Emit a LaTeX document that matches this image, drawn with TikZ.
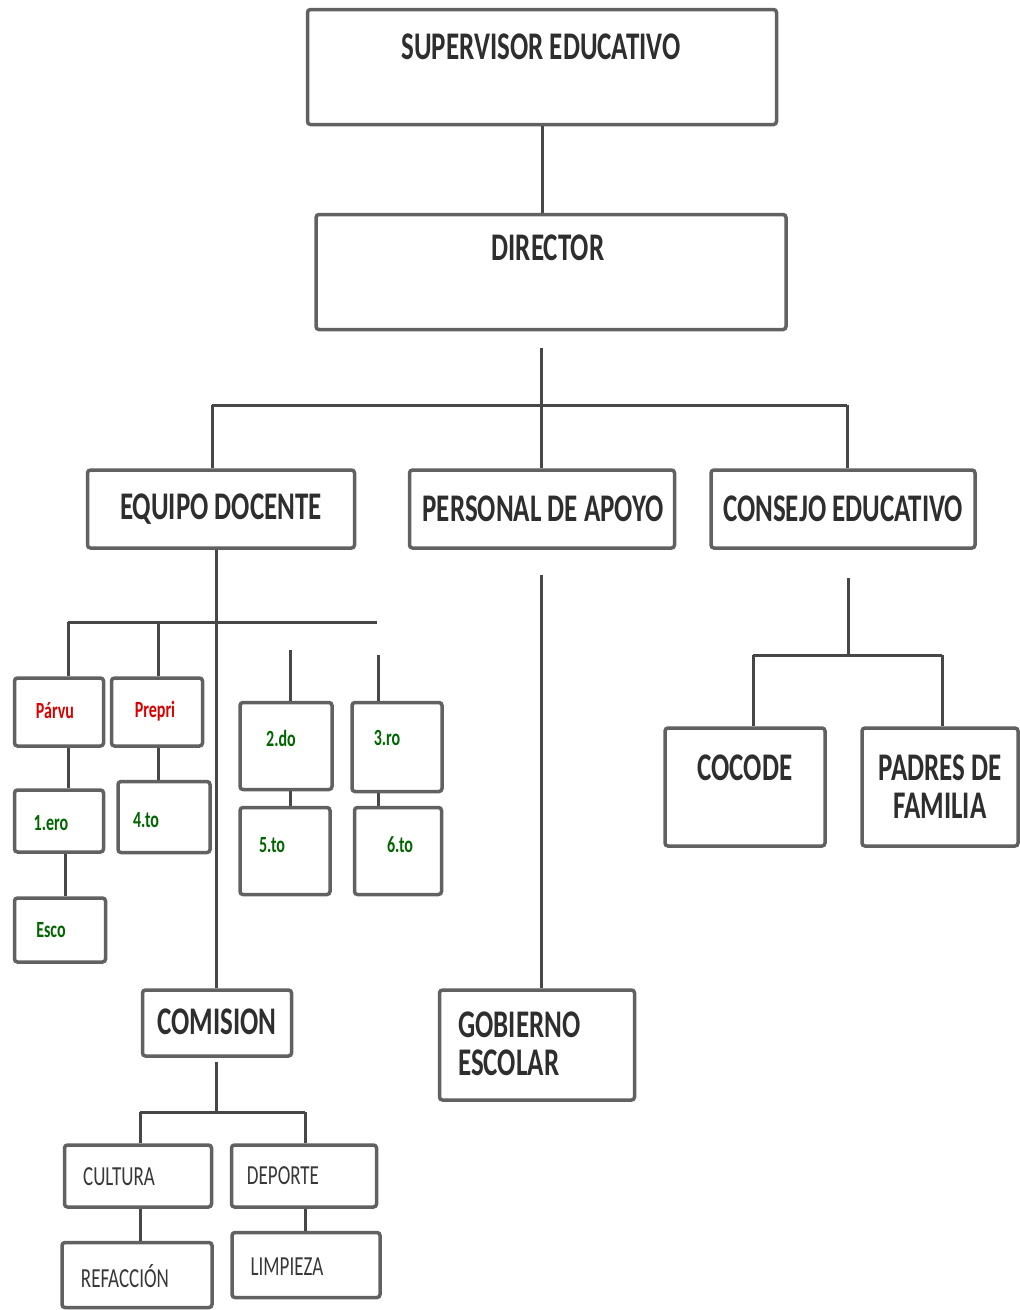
\documentclass[tikz,border=0pt]{standalone}
\usepackage{fontspec}
\setmainfont{Carlito}
\newcommand{\alto}[1]{\scalebox{1}[1.45]{#1}}
\begin{document}
\begin{tikzpicture}
[x=1pt,y=-1pt,
  boxdecorate/.style={shape=rectangle,draw=black!62,line width=3.5pt,rounded corners=3pt,inner sep=0pt},%
  linedecorate/.style={-,line width=3pt,draw=black!72},%
  bigtext/.style={text=black!82,font=\fontsize{27}{38}\selectfont\bfseries,inner sep=0pt},%
  smalltext/.style={text=black!78,font=\fontsize{19}{22}\selectfont,inner sep=0pt},%
  gradetext/.style={font=\fontsize{16}{20}\selectfont\bfseries,inner sep=0pt}]
\useasboundingbox (0,0) rectangle (1020,1310);
%% boxes
\foreach \nodename/\x/\y/\w/\h in {
  sup/542/67/469/115, dir/551/272/470/115,
  equipo/221/509/267/78, apoyo/542/509/265/78, consejo/843/509/264/78,
  parvu/59/712/89/68, prepri/157/712/91/68, g1/59/821/89/62, g4/164/817/92/71,
  esc/60/930/91/64, g2/286/746/92/87, g5/285/851/90/87, g3/397/747/90/89,
  g6/398/851/87/87, cocode/745/787/160/118, padres/940/787/156/118,
  comision/217/1023/149/66, gobierno/537/1045/195/110,
  cultura/138/1176/147/62, deporte/304/1176/145/62,
  refaccion/137/1275/150/65, limpieza/306/1265/148/65} {
  \node (\nodename) at (\x,\y) [boxdecorate,minimum width=\w pt,minimum height=\h pt] {};
}
%% texts
\foreach \nodename/\x/\y/\texto in {
  supt/541/47/SUPERVISOR EDUCATIVO, dirt/548/248/DIRECTOR,
  equipot/221/509/EQUIPO DOCENTE, apoyot/543/509/PERSONAL DE APOYO,
  consejot/843/509/CONSEJO EDUCATIVO, cocodet/745/768/COCODE,
  comisiont/217/1022/COMISION} {
  \node (\nodename) at (\x,\y) [bigtext] {\alto{\texto}};
}
\node (padrest) at (940,787) [bigtext,align=center] {\alto{PADRES DE}\\\alto{FAMILIA}};
\node (gobiernot) at (458,1044) [bigtext,align=left,anchor=west] {\alto{GOBIERNO}\\\alto{ESCOLAR}};
\foreach \nodename/\x/\y/\texto in {
  culturat/119/1177/CULTURA, deportet/283/1176/DEPORTE,
  refacciont/125/1276/REFACCIÓN, limpiezat/287/1267/LIMPIEZA} {
  \node (\nodename) at (\x,\y) [smalltext] {\alto{\texto}};
}
\foreach \nodename/\x/\y/\texto/\tinta in {
  parvut/55/711/Párvu/red!85!black, preprit/155/711/Prepri/red!85!black,
  g1t/51/823/1.ero/green!40!black, g4t/146/820/4.to/green!40!black,
  esct/51/930/Esco/green!40!black, g2t/281/738/2.do/green!40!black,
  g5t/272/845/5.to/green!40!black, g3t/387/738/3.ro/green!40!black,
  g6t/400/845/6.to/green!40!black} {
  \node (\nodename) at (\x,\y) [gradetext,text=\tinta] {\alto{\texto}};
}
%% junctions
\coordinate (dirtail) at (541,348);
\coordinate (busL) at (212,405);
\coordinate (busR) at (847,405);
\coordinate (gradosL) at (68,622);
\coordinate (gradosR) at (377,622);
\coordinate (g2top) at (290,650);
\coordinate (g3top) at (378,655);
\coordinate (apoyotail) at (541,575);
\coordinate (consejotail) at (848,578);
\coordinate (padresL) at (753,655);
\coordinate (padresR) at (942,655);
\coordinate (comisiontail) at (216,1062);
\coordinate (comisionL) at (140,1112);
\coordinate (comisionR) at (305,1112);
%% lines
\draw [linedecorate] (sup.south) -- (sup.south |- dir.north);
\draw [linedecorate] (dirtail) -- (dirtail |- apoyo.north);
\draw [linedecorate] (busL) -- (busR);
\draw [linedecorate] (busL) -- (busL |- equipo.north);
\draw [linedecorate] (busR) -- (busR |- consejo.north);
\draw [linedecorate] (equipo.south -| comisiontail) -- (comisiontail |- comision.north);
\draw [linedecorate] (gradosL) -- (gradosR);
\draw [linedecorate] (gradosL) -- (gradosL |- parvu.north);
\draw [linedecorate] (gradosL -| prepri.north) ++(1,0) -- (158,0 |- prepri.north);
\draw [linedecorate] (parvu.south -| gradosL) -- (gradosL |- g1.north);
\draw [linedecorate] (g1.south) ++(6,0) -- (65,0 |- esc.north);
\draw [linedecorate] (prepri.south) ++(1,0) -- (158,0 |- g4.north);
\draw [linedecorate] (g2top) -- (g2top |- g2.north);
\draw [linedecorate] (g2.south -| g2top) -- (g2top |- g5.north);
\draw [linedecorate] (g3top) -- (g3top |- g3.north);
\draw [linedecorate] (g3.south -| g3top) -- (g3top |- g6.north);
\draw [linedecorate] (apoyotail) -- (apoyotail |- gobierno.north);
\draw [linedecorate] (consejotail) -- (consejotail |- padresL);
\draw [linedecorate] (padresL) -- (padresR);
\draw [linedecorate] (padresL) -- (padresL |- cocode.north);
\draw [linedecorate] (padresR) -- (padresR |- padres.north);
\draw [linedecorate] (comisiontail) -- (comisiontail |- comisionL);
\draw [linedecorate] (comisionL) -- (comisionR);
\draw [linedecorate] (comisionL) -- (comisionL |- cultura.north);
\draw [linedecorate] (comisionR) -- (comisionR |- deporte.north);
\draw [linedecorate] (cultura.south -| comisionL) -- (comisionL |- refaccion.north);
\draw [linedecorate] (deporte.south -| comisionR) -- (comisionR |- limpieza.north);
\end{tikzpicture}
\end{document}
